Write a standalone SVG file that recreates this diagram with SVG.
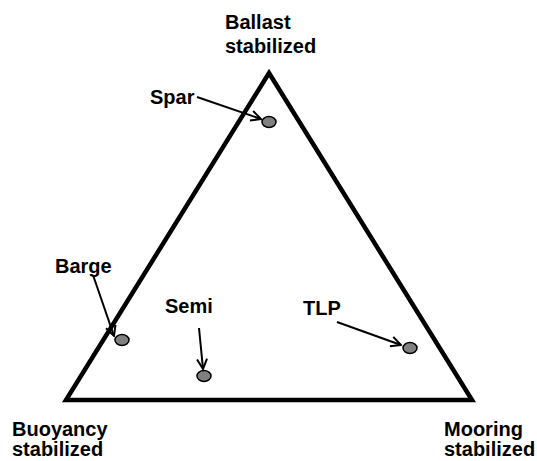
<svg xmlns="http://www.w3.org/2000/svg" width="537" height="461" viewBox="0 0 537 461">
<style>
.lbl{font-family:"Liberation Sans",Arial,sans-serif;font-weight:bold;font-size:20px;fill:#000}
.pt{fill:#808080;stroke:#000;stroke-width:1.5}
.arr{stroke:#000;stroke-width:2;fill:none;marker-end:url(#ah)}
</style>
<defs>
<marker id="ah" viewBox="0 0 12 12" refX="11" refY="6" markerWidth="12" markerHeight="12" markerUnits="userSpaceOnUse" orient="auto">
<path d="M1,1 L11,6 L1,11" fill="none" stroke="#000" stroke-width="2"/>
</marker>
</defs>
<rect width="537" height="461" fill="#fff"/>
<g id="triangle">
<polygon points="269,73 472,400 66,400" fill="none" stroke="#000" stroke-width="4.5" stroke-linejoin="miter"/>
</g>
<g id="ballast"><text class="lbl" x="225" y="29">Ballast</text><text class="lbl" x="225" y="53">stabilized</text></g>
<g id="buoyancy"><text class="lbl" x="12" y="436">Buoyancy</text><text class="lbl" x="12" y="456">stabilized</text></g>
<g id="mooring"><text class="lbl" x="444" y="436">Mooring</text><text class="lbl" x="444" y="456">stabilized</text></g>
<g id="spar"><text class="lbl" x="150" y="104">Spar</text><ellipse class="pt" cx="269" cy="122" rx="7" ry="5.5"/></g>
<g id="barge"><text class="lbl" x="55" y="273">Barge</text><ellipse class="pt" cx="122" cy="340" rx="7" ry="5.5"/></g>
<g id="semi"><text class="lbl" x="165" y="313">Semi</text><ellipse class="pt" cx="204" cy="376" rx="7" ry="5.5"/></g>
<g id="tlp"><text class="lbl" x="303" y="315">TLP</text><ellipse class="pt" cx="410" cy="348" rx="7" ry="5.5"/></g>
<g id="connectors">
<line class="arr" x1="197" y1="97" x2="261" y2="119"/>
<line class="arr" x1="93" y1="275" x2="114" y2="336"/>
<line class="arr" x1="199" y1="328" x2="203" y2="369"/>
<line class="arr" x1="337" y1="322" x2="401" y2="345"/>
</g>
</svg>
